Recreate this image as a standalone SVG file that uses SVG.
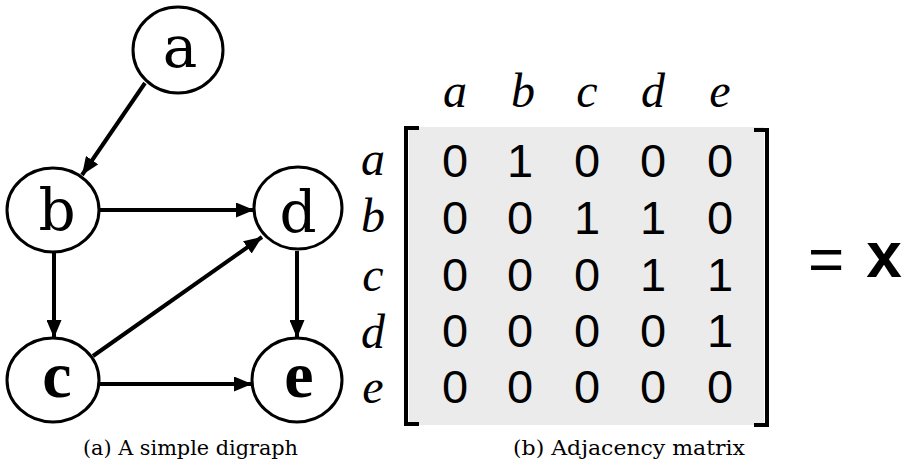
<svg xmlns="http://www.w3.org/2000/svg" width="908" height="472" viewBox="0 0 908 472">
<style>
.node ellipse{fill:#fff;stroke:#000;stroke-width:3}
.nl{font-family:"DejaVu Serif","Liberation Serif",serif;font-size:58px;text-anchor:middle;fill:#000}
.nb{font-family:"Liberation Serif","Times New Roman",serif;font-weight:bold;font-size:66px}
.edge{stroke:#000;stroke-width:4;fill:none;marker-end:url(#ah)}
.hdr{font-family:"Liberation Serif","Times New Roman",serif;font-style:italic;font-size:48px;text-anchor:middle;fill:#000}
.num{font-family:"Liberation Sans",Arial,sans-serif;font-size:47px;text-anchor:middle;fill:#000}
.cap{font-family:"DejaVu Serif","Liberation Serif",serif;font-size:21px;fill:#000}
.br{stroke:#000;stroke-width:4;fill:none}
</style>
<defs>
<marker id="ah" viewBox="0 0 18 15" refX="18" refY="7.5" markerWidth="18" markerHeight="15" markerUnits="userSpaceOnUse" orient="auto">
<path d="M0,0 L18,7.5 L0,15 z" fill="#000"/>
</marker>
</defs>
<rect width="908" height="472" fill="#fff"/>
<g id="connectors">
<line class="edge" x1="145" y1="83" x2="82" y2="175"/>
<line class="edge" x1="99" y1="210" x2="254" y2="210"/>
<line class="edge" x1="54" y1="252" x2="54" y2="338"/>
<line class="edge" x1="93" y1="356" x2="262" y2="237"/>
<line class="edge" x1="297" y1="251" x2="297" y2="338"/>
<line class="edge" x1="100" y1="384" x2="252" y2="384"/>
</g>
<g id="node-a" class="node"><ellipse cx="178" cy="50" rx="45" ry="43"/><text class="nl" x="180" y="67">a</text></g>
<g id="node-b" class="node"><ellipse cx="53" cy="210" rx="46" ry="42"/><text class="nl" x="57" y="230">b</text></g>
<g id="node-d" class="node"><ellipse cx="298" cy="208" rx="44" ry="41"/><text class="nl" x="298" y="232">d</text></g>
<g id="node-c" class="node"><ellipse cx="53" cy="380" rx="46" ry="42"/><text class="nl nb" x="57" y="397">c</text></g>
<g id="node-e" class="node"><ellipse cx="297" cy="380" rx="45" ry="42"/><text class="nl nb" x="299" y="397">e</text></g>
<text class="cap" x="83" y="455" textLength="215" lengthAdjust="spacingAndGlyphs">(a) A simple digraph</text>
<g id="matrix">
<rect x="409" y="127" width="355" height="298" fill="#ebebeb"/>
<path class="br" d="M419,128 H406 V424 H419"/>
<path class="br" d="M754,130 H767 V425 H754"/>
<g class="hdr">
<text x="455" y="107">a</text><text x="523" y="107">b</text><text x="587" y="107">c</text><text x="653" y="107">d</text><text x="720" y="107">e</text>
<text x="373" y="175">a</text><text x="373" y="232">b</text><text x="373" y="291">c</text><text x="373" y="348">d</text><text x="373" y="403">e</text>
</g>
<g class="num">
<text y="177"><tspan x="455">0</tspan><tspan x="520">1</tspan><tspan x="587">0</tspan><tspan x="653">0</tspan><tspan x="720">0</tspan></text>
<text y="234"><tspan x="455">0</tspan><tspan x="520">0</tspan><tspan x="587">1</tspan><tspan x="653">1</tspan><tspan x="720">0</tspan></text>
<text y="291"><tspan x="455">0</tspan><tspan x="520">0</tspan><tspan x="587">0</tspan><tspan x="653">1</tspan><tspan x="720">1</tspan></text>
<text y="347"><tspan x="455">0</tspan><tspan x="520">0</tspan><tspan x="587">0</tspan><tspan x="653">0</tspan><tspan x="720">1</tspan></text>
<text y="403"><tspan x="455">0</tspan><tspan x="520">0</tspan><tspan x="587">0</tspan><tspan x="653">0</tspan><tspan x="720">0</tspan></text>
</g>
</g>
<text x="826" y="280" font-family="'Liberation Sans',Arial,sans-serif" font-size="62" text-anchor="middle">=</text>
<text x="884" y="277" font-family="'Liberation Sans',Arial,sans-serif" font-weight="bold" font-size="64" text-anchor="middle">x</text>
<text class="cap" x="513" y="455" textLength="232" lengthAdjust="spacingAndGlyphs">(b) Adjacency matrix</text>
</svg>
